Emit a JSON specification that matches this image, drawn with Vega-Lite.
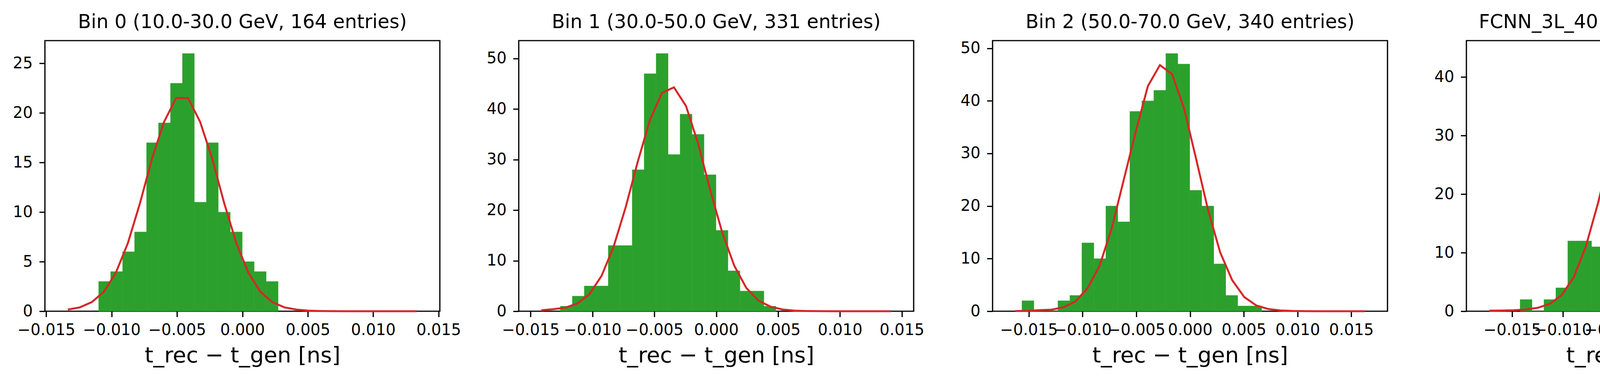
{
  "$schema": "https://vega.github.io/schema/vega-lite/v6.json",
  "background": "white",
  "padding": {"left": 31, "top": 30, "right": 10, "bottom": 10},
  "spacing": 202,
  "bounds": "flush",
  "config": {
    "font": "DejaVu Sans",
    "view": {"stroke": "black", "strokeWidth": 3.2},
    "axis": {
      "domain": false,
      "grid": false,
      "tickColor": "black",
      "tickWidth": 3.2,
      "tickSize": 14.5,
      "labelColor": "black",
      "labelFontSize": 40,
      "titleFontSize": 56,
      "titleFontWeight": "normal",
      "titleColor": "black",
      "labelOverlap": false,
      "labelFlush": false
    },
    "axisX": {"labelPadding": 13.5, "titlePadding": 18},
    "axisY": {"labelPadding": 17},
    "title": {
      "fontSize": 49,
      "fontWeight": "normal",
      "color": "black",
      "baseline": "alphabetic",
      "offset": 22,
      "frame": "group",
      "anchor": "middle"
    }
  },
  "datasets": {
    "bars0": [
      {"x": -0.01099, "x2": -0.010075, "y": 3},
      {"x": -0.010075, "x2": -0.00916, "y": 4},
      {"x": -0.00916, "x2": -0.008245, "y": 6},
      {"x": -0.008245, "x2": -0.00733, "y": 8},
      {"x": -0.00733, "x2": -0.006415, "y": 17},
      {"x": -0.006415, "x2": -0.0055, "y": 19},
      {"x": -0.0055, "x2": -0.004585, "y": 23},
      {"x": -0.004585, "x2": -0.00367, "y": 26},
      {"x": -0.00367, "x2": -0.002755, "y": 11},
      {"x": -0.002755, "x2": -0.00184, "y": 17},
      {"x": -0.00184, "x2": -0.000925, "y": 10},
      {"x": -0.000925, "x2": -0.00001, "y": 8},
      {"x": -0.00001, "x2": 0.000905, "y": 5},
      {"x": 0.000905, "x2": 0.00182, "y": 4},
      {"x": 0.00182, "x2": 0.002735, "y": 3}
    ],
    "fit0": [
      {"x": -0.01335, "y": 0.17},
      {"x": -0.01243, "y": 0.39},
      {"x": -0.01151, "y": 0.92},
      {"x": -0.01059, "y": 1.97},
      {"x": -0.00967, "y": 3.9},
      {"x": -0.00875, "y": 6.9},
      {"x": -0.00783, "y": 10.9},
      {"x": -0.00691, "y": 15.4},
      {"x": -0.00599, "y": 19.1},
      {"x": -0.00507, "y": 21.5},
      {"x": -0.00415, "y": 21.5},
      {"x": -0.00323, "y": 19.1},
      {"x": -0.00231, "y": 15.4},
      {"x": -0.00139, "y": 10.9},
      {"x": -0.00047, "y": 6.9},
      {"x": 0.00045, "y": 3.9},
      {"x": 0.00137, "y": 1.97},
      {"x": 0.00229, "y": 0.92},
      {"x": 0.00321, "y": 0.39},
      {"x": 0.00413, "y": 0.17},
      {"x": 0.00505, "y": 0.06},
      {"x": 0.00597, "y": 0.02},
      {"x": 0.00689, "y": 0.005},
      {"x": 0.00781, "y": 0.001},
      {"x": 0.00873, "y": 0},
      {"x": 0.00965, "y": 0},
      {"x": 0.01057, "y": 0},
      {"x": 0.01149, "y": 0},
      {"x": 0.01241, "y": 0},
      {"x": 0.01333, "y": 0}
    ],
    "bars1": [
      {"x": -0.0126, "x2": -0.011632, "y": 1},
      {"x": -0.011632, "x2": -0.010664, "y": 3},
      {"x": -0.010664, "x2": -0.009696, "y": 5},
      {"x": -0.009696, "x2": -0.008728, "y": 5},
      {"x": -0.008728, "x2": -0.00776, "y": 13},
      {"x": -0.00776, "x2": -0.006792, "y": 13},
      {"x": -0.006792, "x2": -0.005824, "y": 28},
      {"x": -0.005824, "x2": -0.004856, "y": 47},
      {"x": -0.004856, "x2": -0.003888, "y": 51},
      {"x": -0.003888, "x2": -0.00292, "y": 31},
      {"x": -0.00292, "x2": -0.001952, "y": 39},
      {"x": -0.001952, "x2": -0.000984, "y": 35},
      {"x": -0.000984, "x2": -0.000016, "y": 27},
      {"x": -0.000016, "x2": 0.000952, "y": 16},
      {"x": 0.000952, "x2": 0.00192, "y": 8},
      {"x": 0.00192, "x2": 0.002888, "y": 4},
      {"x": 0.002888, "x2": 0.003856, "y": 4},
      {"x": 0.003856, "x2": 0.004824, "y": 1}
    ],
    "fit1": [
      {"x": -0.01414, "y": 0.2},
      {"x": -0.013165, "y": 0.4},
      {"x": -0.01219, "y": 0.7},
      {"x": -0.011215, "y": 1.55},
      {"x": -0.01024, "y": 3.4},
      {"x": -0.009265, "y": 7.0},
      {"x": -0.00829, "y": 12.8},
      {"x": -0.007315, "y": 20.6},
      {"x": -0.00634, "y": 29.6},
      {"x": -0.005365, "y": 37.8},
      {"x": -0.00439, "y": 43.2},
      {"x": -0.003415, "y": 44.3},
      {"x": -0.00244, "y": 40.6},
      {"x": -0.001465, "y": 33.2},
      {"x": -0.00049, "y": 24.0},
      {"x": 0.000485, "y": 15.6},
      {"x": 0.00146, "y": 9.0},
      {"x": 0.002435, "y": 4.6},
      {"x": 0.00341, "y": 2.1},
      {"x": 0.004385, "y": 0.9},
      {"x": 0.00536, "y": 0.35},
      {"x": 0.006335, "y": 0.12},
      {"x": 0.00731, "y": 0.04},
      {"x": 0.008285, "y": 0.01},
      {"x": 0.00926, "y": 0},
      {"x": 0.010235, "y": 0},
      {"x": 0.01121, "y": 0},
      {"x": 0.012185, "y": 0},
      {"x": 0.01316, "y": 0},
      {"x": 0.014135, "y": 0}
    ],
    "bars2": [
      {"x": -0.01564, "x2": -0.0145245, "y": 2},
      {"x": -0.0145245, "x2": -0.013409, "y": 0},
      {"x": -0.013409, "x2": -0.0122935, "y": 0},
      {"x": -0.0122935, "x2": -0.011178, "y": 2},
      {"x": -0.011178, "x2": -0.0100625, "y": 3},
      {"x": -0.0100625, "x2": -0.008947, "y": 13},
      {"x": -0.008947, "x2": -0.0078315, "y": 10},
      {"x": -0.0078315, "x2": -0.006716, "y": 20},
      {"x": -0.006716, "x2": -0.0056005, "y": 17},
      {"x": -0.0056005, "x2": -0.004485, "y": 38},
      {"x": -0.004485, "x2": -0.0033695, "y": 40},
      {"x": -0.0033695, "x2": -0.002254, "y": 42},
      {"x": -0.002254, "x2": -0.0011385, "y": 49},
      {"x": -0.0011385, "x2": -0.000023, "y": 47},
      {"x": -0.000023, "x2": 0.0010925, "y": 23},
      {"x": 0.0010925, "x2": 0.002208, "y": 20},
      {"x": 0.002208, "x2": 0.0033235, "y": 9},
      {"x": 0.0033235, "x2": 0.004439, "y": 3},
      {"x": 0.004439, "x2": 0.0055545, "y": 1},
      {"x": 0.0055545, "x2": 0.00667, "y": 1}
    ],
    "fit2": [
      {"x": -0.01625, "y": 0.03},
      {"x": -0.015129, "y": 0.08},
      {"x": -0.014009, "y": 0.2},
      {"x": -0.012888, "y": 0.3},
      {"x": -0.011767, "y": 0.75},
      {"x": -0.010647, "y": 1.9},
      {"x": -0.009526, "y": 4.4},
      {"x": -0.008405, "y": 8.7},
      {"x": -0.007284, "y": 15.8},
      {"x": -0.006164, "y": 25.0},
      {"x": -0.005043, "y": 34.2},
      {"x": -0.003922, "y": 42.8},
      {"x": -0.002802, "y": 46.8},
      {"x": -0.001681, "y": 45.1},
      {"x": -0.00056, "y": 38.6},
      {"x": 0.00056, "y": 29.0},
      {"x": 0.001681, "y": 19.2},
      {"x": 0.002802, "y": 11.2},
      {"x": 0.003922, "y": 5.9},
      {"x": 0.005043, "y": 2.7},
      {"x": 0.006164, "y": 1.1},
      {"x": 0.007284, "y": 0.42},
      {"x": 0.008405, "y": 0.15},
      {"x": 0.009526, "y": 0.05},
      {"x": 0.010647, "y": 0.02},
      {"x": 0.011767, "y": 0},
      {"x": 0.012888, "y": 0},
      {"x": 0.014009, "y": 0},
      {"x": 0.015129, "y": 0},
      {"x": 0.01625, "y": 0}
    ],
    "bars3": [
      {"x": -0.01422, "x2": -0.013041, "y": 2},
      {"x": -0.013041, "x2": -0.011862, "y": 0},
      {"x": -0.011862, "x2": -0.010683, "y": 2},
      {"x": -0.010683, "x2": -0.009504, "y": 4},
      {"x": -0.009504, "x2": -0.008325, "y": 12},
      {"x": -0.008325, "x2": -0.007146, "y": 12},
      {"x": -0.007146, "x2": -0.005967, "y": 11},
      {"x": -0.005967, "x2": -0.004788, "y": 27},
      {"x": -0.004788, "x2": -0.003609, "y": 37},
      {"x": -0.003609, "x2": -0.00243, "y": 44},
      {"x": -0.00243, "x2": -0.001251, "y": 41},
      {"x": -0.001251, "x2": -0.000072, "y": 41},
      {"x": -0.000072, "x2": 0.001107, "y": 34},
      {"x": 0.001107, "x2": 0.002286, "y": 29},
      {"x": 0.002286, "x2": 0.003465, "y": 16},
      {"x": 0.003465, "x2": 0.004644, "y": 8},
      {"x": 0.004644, "x2": 0.005823, "y": 5},
      {"x": 0.005823, "x2": 0.007002, "y": 1}
    ],
    "fit3": [
      {"x": -0.01724, "y": 0.1},
      {"x": -0.016051, "y": 0.12},
      {"x": -0.014862, "y": 0.17},
      {"x": -0.013673, "y": 0.29},
      {"x": -0.012484, "y": 0.58},
      {"x": -0.011295, "y": 1.25},
      {"x": -0.010106, "y": 2.75},
      {"x": -0.008917, "y": 5.8},
      {"x": -0.007728, "y": 11.0},
      {"x": -0.006539, "y": 18.3},
      {"x": -0.00535, "y": 26.6},
      {"x": -0.004161, "y": 35.4},
      {"x": -0.002972, "y": 41.9},
      {"x": -0.001783, "y": 44.0},
      {"x": -0.000594, "y": 41.3},
      {"x": 0.000595, "y": 34.6},
      {"x": 0.001784, "y": 25.7},
      {"x": 0.002973, "y": 17.2},
      {"x": 0.004162, "y": 10.2},
      {"x": 0.005351, "y": 5.4},
      {"x": 0.00654, "y": 2.5},
      {"x": 0.007729, "y": 1.05},
      {"x": 0.008918, "y": 0.42},
      {"x": 0.010107, "y": 0.15},
      {"x": 0.011296, "y": 0.05},
      {"x": 0.012485, "y": 0.02},
      {"x": 0.013674, "y": 0},
      {"x": 0.014863, "y": 0},
      {"x": 0.016052, "y": 0},
      {"x": 0.017241, "y": 0}
    ]
  },
  "hconcat": [
    {
      "width": 1011,
      "height": 693,
      "title": "Bin 0 (10.0-30.0 GeV, 164 entries)",
      "layer": [
        {
          "data": {"name": "bars0"},
          "mark": {"type": "rect", "color": "#2ca02c", "stroke": "#2ca02c", "strokeWidth": 0.6},
          "encoding": {
            "x": {"field": "x", "type": "quantitative",
              "scale": {"domain": [-0.0151, 0.0151], "nice": false, "zero": false},
              "axis": {"values": [-0.015, -0.01, -0.005, 0, 0.005, 0.01, 0.015], "format": ".3f", "title": "t_rec − t_gen [ns]"}},
            "x2": {"field": "x2"},
            "y": {"field": "y", "type": "quantitative",
              "scale": {"domain": [0, 27.3], "nice": false},
              "axis": {"values": [0, 5, 10, 15, 20, 25], "format": "d", "title": null}},
            "y2": {"datum": 0}
          }
        },
        {
          "data": {"name": "fit0"},
          "mark": {"type": "line", "color": "#d62728", "strokeWidth": 5},
          "encoding": {
            "x": {"field": "x", "type": "quantitative"},
            "y": {"field": "y", "type": "quantitative"}
          }
        }
      ]
    },
    {
      "width": 1011,
      "height": 693,
      "title": "Bin 1 (30.0-50.0 GeV, 331 entries)",
      "layer": [
        {
          "data": {"name": "bars1"},
          "mark": {"type": "rect", "color": "#2ca02c", "stroke": "#2ca02c", "strokeWidth": 0.6},
          "encoding": {
            "x": {"field": "x", "type": "quantitative",
              "scale": {"domain": [-0.01596, 0.01596], "nice": false, "zero": false},
              "axis": {"values": [-0.015, -0.01, -0.005, 0, 0.005, 0.01, 0.015], "format": ".3f", "title": "t_rec − t_gen [ns]"}},
            "x2": {"field": "x2"},
            "y": {"field": "y", "type": "quantitative",
              "scale": {"domain": [0, 53.55], "nice": false},
              "axis": {"values": [0, 10, 20, 30, 40, 50], "format": "d", "title": null}},
            "y2": {"datum": 0}
          }
        },
        {
          "data": {"name": "fit1"},
          "mark": {"type": "line", "color": "#d62728", "strokeWidth": 5},
          "encoding": {
            "x": {"field": "x", "type": "quantitative"},
            "y": {"field": "y", "type": "quantitative"}
          }
        }
      ]
    },
    {
      "width": 1011,
      "height": 693,
      "title": "Bin 2 (50.0-70.0 GeV, 340 entries)",
      "layer": [
        {
          "data": {"name": "bars2"},
          "mark": {"type": "rect", "color": "#2ca02c", "stroke": "#2ca02c", "strokeWidth": 0.6},
          "encoding": {
            "x": {"field": "x", "type": "quantitative",
              "scale": {"domain": [-0.01837, 0.01837], "nice": false, "zero": false},
              "axis": {"values": [-0.015, -0.01, -0.005, 0, 0.005, 0.01, 0.015], "format": ".3f", "title": "t_rec − t_gen [ns]"}},
            "x2": {"field": "x2"},
            "y": {"field": "y", "type": "quantitative",
              "scale": {"domain": [0, 51.45], "nice": false},
              "axis": {"values": [0, 10, 20, 30, 40, 50], "format": "d", "title": null}},
            "y2": {"datum": 0}
          }
        },
        {
          "data": {"name": "fit2"},
          "mark": {"type": "line", "color": "#d62728", "strokeWidth": 5},
          "encoding": {
            "x": {"field": "x", "type": "quantitative"},
            "y": {"field": "y", "type": "quantitative"}
          }
        }
      ]
    },
    {
      "width": 1011,
      "height": 693,
      "title": "FCNN_3L_40ED_no_sched_e_10_model",
      "layer": [
        {
          "data": {"name": "bars3"},
          "mark": {"type": "rect", "color": "#2ca02c", "stroke": "#2ca02c", "strokeWidth": 0.6},
          "encoding": {
            "x": {"field": "x", "type": "quantitative",
              "scale": {"domain": [-0.01953, 0.01953], "nice": false, "zero": false},
              "axis": {"values": [-0.015, -0.01, -0.005, 0, 0.005, 0.01, 0.015], "format": ".3f", "title": "t_rec − t_gen [ns]"}},
            "x2": {"field": "x2"},
            "y": {"field": "y", "type": "quantitative",
              "scale": {"domain": [0, 46.2], "nice": false},
              "axis": {"values": [0, 10, 20, 30, 40], "format": "d", "title": null}},
            "y2": {"datum": 0}
          }
        },
        {
          "data": {"name": "fit3"},
          "mark": {"type": "line", "color": "#d62728", "strokeWidth": 5},
          "encoding": {
            "x": {"field": "x", "type": "quantitative"},
            "y": {"field": "y", "type": "quantitative"}
          }
        }
      ]
    }
  ]
}
